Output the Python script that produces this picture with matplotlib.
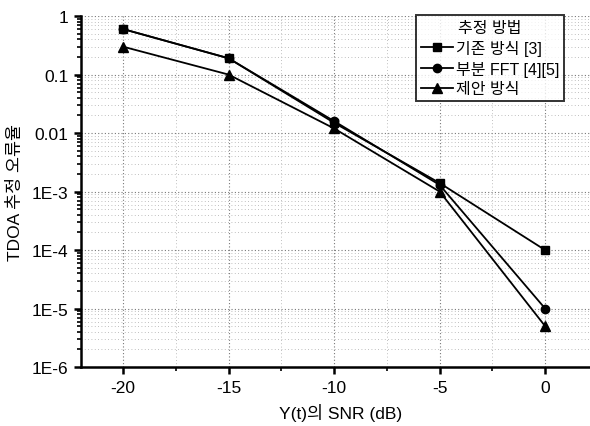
import matplotlib
matplotlib.use("Agg")
import matplotlib.pyplot as plt
from matplotlib.ticker import FixedLocator, LogLocator, NullFormatter

plt.rcParams['font.family'] = ['Liberation Sans', 'Noto Sans CJK KR']
plt.rcParams['axes.unicode_minus'] = False

# data
snr = [-20, -15, -10, -5, 0]
base = [0.6, 0.19, 0.015, 0.0014, 1e-4]
partial = [0.6, 0.19, 0.016, 0.0013, 1e-5]
proposed = [0.3, 0.1, 0.012, 0.001, 5e-6]
labels = ['기존 방식 [3]', '부분 FFT [4][5]', '제안 방식']
ytick_vals = [1, 0.1, 0.01, 1e-3, 1e-4, 1e-5, 1e-6]
ytick_labels = ['1', '0.1', '0.01', '1E-3', '1E-4', '1E-5', '1E-6']

fig = plt.figure(figsize=(5.9, 4.27), dpi=100)
ax = fig.add_axes([0.137, 0.138, 0.88, 0.822])

ax.plot(snr, base, '-s', color='black', lw=1.3, ms=6, label=labels[0])
ax.plot(snr, partial, '-o', color='black', lw=1.3, ms=6, label=labels[1])
ax.plot(snr, proposed, '-^', color='black', lw=1.3, ms=7, label=labels[2])

ax.set_yscale('log')
ax.set_ylim(1e-6, 1)
ax.set_xlim(-22, 2.6)
ax.set_yticks(ytick_vals)
ax.set_yticklabels(ytick_labels)
ax.yaxis.set_minor_locator(LogLocator(base=10, subs=range(2, 10), numticks=20))
ax.yaxis.set_minor_formatter(NullFormatter())
ax.set_xticks(snr)
ax.xaxis.set_minor_locator(FixedLocator([-17.5, -12.5, -7.5, -2.5]))

ax.grid(which='major', ls=(0, (1, 2)), color='#777777', lw=0.8)
ax.grid(which='minor', ls=(0, (1, 3)), color='#aaaaaa', lw=0.6)

for s in ['top', 'right']:
    ax.spines[s].set_visible(False)
ax.spines['left'].set_linewidth(1.8)
ax.spines['bottom'].set_linewidth(1.8)
ax.tick_params(which='major', direction='out', length=5, width=1.8, labelsize=12.5, pad=4)
ax.tick_params(which='minor', direction='out', length=3, width=1.2)

ax.set_xlabel('Y(t)의 SNR (dB)', fontsize=12.5, labelpad=6)
ax.set_ylabel('TDOA 추정 오류율', fontsize=12.5, labelpad=6)

leg = ax.legend(title='추정 방법', loc='upper left', bbox_to_anchor=(0.705, 0.962),
                bbox_transform=fig.transFigure, borderaxespad=0, fontsize=11.5,
                title_fontsize=11.5, frameon=True, fancybox=False, edgecolor='black',
                handlelength=2.0, borderpad=0.3, labelspacing=0.3, handletextpad=0.2)
leg.get_frame().set_linewidth(1.4)

fig.savefig('out.png', dpi=100)
